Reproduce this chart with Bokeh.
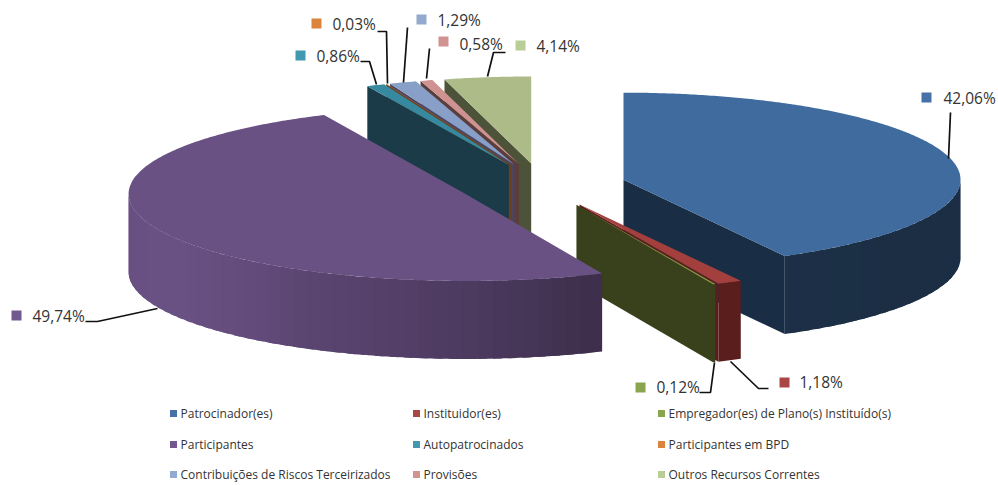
import numpy as np
from bokeh.plotting import figure
from bokeh.models import Range1d
from bokeh.embed import file_html
from bokeh.resources import INLINE
from bokeh.core.properties import value as fv

categories = ["Patrocinador(es)", "Instituidor(es)", "Empregador(es) de Plano(s) Instituído(s)",
              "Participantes", "Autopatrocinados", "Participantes em BPD",
              "Contribuições de Riscos Terceirizados", "Provisões", "Outros Recursos Correntes"]
shares = [42.06, 1.18, 0.12, 49.74, 0.86, 0.03, 1.29, 0.58, 4.14]
labels = ["42,06%", "1,18%", "0,12%", "49,74%", "0,86%", "0,03%", "1,29%", "0,58%", "4,14%"]
top_colors = ["#3f6b9e", "#a33f3c", "#82a044", "#6a5184", "#37899f", "#d9803a", "#88a0c8", "#cf9291", "#adbb88"]
key_colors = ["#4672a8", "#aa4643", "#89a54e", "#71588f", "#4198af", "#db843d", "#93a9cf", "#d19392", "#b9cd96"]
cut_colors = ["#192d45", "#5a1f1d", "#38401c", "#3f2d4c", "#1a3b47", "#6b4020", "#4a4560", "#5a3d3d", "#4c5339"]

W, H = 998, 485
# geometry of the pie on the page
CX, CY, RX, RY, DEPTH, EXPL = 541.6, 184.5, 337, 87, 78, 84
EXPL_Y = EXPL * RY / RX

p = figure(width=W, height=H, output_backend="svg", toolbar_location=None,
           x_range=Range1d(0, W), y_range=Range1d(H, 0),
           min_border=0, outline_line_color=None, background_fill_color="white")
p.axis.visible = False
p.grid.visible = False


def hexrgb(c):
    return [int(c[i:i + 2], 16) for i in (1, 3, 5)]


def scale(c, f):
    return "#%02x%02x%02x" % tuple(int(min(255, v * f)) for v in hexrgb(c))


def pt(cx, cy, deg):
    a = np.radians(deg)
    return cx + RX * np.sin(a), cy - RY * np.cos(a)


def wall_color(i, deg):
    if i == 3:
        f = float(np.interp(deg, [156, 182, 209, 215, 235, 250, 262, 270],
                            [0.58, 0.75, 0.87, 0.93, 1.0, 1.0, 0.985, 0.97]))
        return scale(top_colors[i], f)
    if i == 0:
        return scale(top_colors[i], float(np.interp(deg, [90, 120, 151], [0.44, 0.43, 0.45])))
    return cut_colors[i]


shares_arr = np.array(shares)
ends = np.cumsum(shares_arr) / shares_arr.sum() * 360
starts = np.concatenate([[0], ends[:-1]])
mids = (starts + ends) / 2
cxs = CX + EXPL * np.sin(np.radians(mids))
cys = CY - EXPL_Y * np.cos(np.radians(mids))

order = [8, 7, 6, 5, 4, 0, 1, 2, 3]
for i in order:
    s, e, cx, cy = starts[i], ends[i], cxs[i], cys[i]
    # flat cut face that looks towards the viewer
    cut = e if s < 180 else s
    if i != 3:
        rx, ry = pt(cx, cy, cut)
        p.patch([cx, rx, rx, cx], [cy, ry, ry + DEPTH, cy + DEPTH],
                fill_color=cut_colors[i], line_color=None)
    # outer rim, visible on the front half only; each band overlaps the next
    lo, hi = max(s, 90), min(e, 270)
    if hi > lo:
        edges = np.linspace(lo, hi, max(2, int((hi - lo) / 2.5) + 1))
        for a0, a1 in reversed(list(zip(edges[:-1], edges[1:]))):
            arc = np.linspace(a0, min(a1 + 1.5, hi), 5)
            x, y = pt(cx, cy, arc)
            col = wall_color(i, (a0 + a1) / 2)
            p.patch(np.r_[x, x[::-1]], np.r_[y, y[::-1] + DEPTH], fill_color=col, line_color=None)
    # top face
    arc = np.linspace(s, e, max(3, int(e - s) * 2))
    ax, ay = pt(cx, cy, arc)
    p.patch(np.r_[cx, ax], np.r_[cy, ay], fill_color=top_colors[i], line_color=None)

# data labels: marker position, text left and centre, leader elbow points
label_pos = [(926, 97, 943, 97), (784, 382, 799, 381), (640, 387, 656, 386), (16, 315, 32, 315),
             (300, 55, 316, 55), (316, 23, 332, 23), (421, 19, 437, 19), (443, 41, 459, 43), (520, 45, 536, 45)]
leaders = [[(950, 112), (948, 158)],
           [(768, 388), (758, 388), (730, 361)],
           [(699, 392), (710, 392), (714, 362)],
           [(85, 321), (97, 321), (157, 308)],
           [(360, 61), (369, 61), (376, 84)],
           [(377, 31), (386, 31), (387, 83)],
           [(407, 27), (403, 82)],
           [(429, 48), (426, 78)],
           [(505, 52), (493, 52), (487, 76)]]
for pts in leaders:
    p.line([q[0] for q in pts], [q[1] for q in pts], line_color="#111111", line_width=1.7)

p.rect([q[0] for q in label_pos], [q[1] for q in label_pos], width=10, height=10,
       fill_color=key_colors, line_color=None)
p.text([q[2] for q in label_pos], [q[3] for q in label_pos], text=labels, text_font=fv("Open Sans"),
       text_font_size="15.5px", text_color="#333333", text_baseline="middle", text_align="left")

# legend
leg_x = [173, 416, 661]
leg_y = [413, 444, 474]
lx = [leg_x[k % 3] for k in range(9)]
ly = [leg_y[k // 3] for k in range(9)]
p.rect(lx, ly, width=7, height=7, fill_color=key_colors, line_color=None)
p.text([x + 7 for x in lx], ly, text=categories, text_font=fv("Open Sans"),
       text_font_size="12px", text_color="#333333", text_baseline="middle", text_align="left")

open("out.html", "w").write(file_html(p, INLINE))
